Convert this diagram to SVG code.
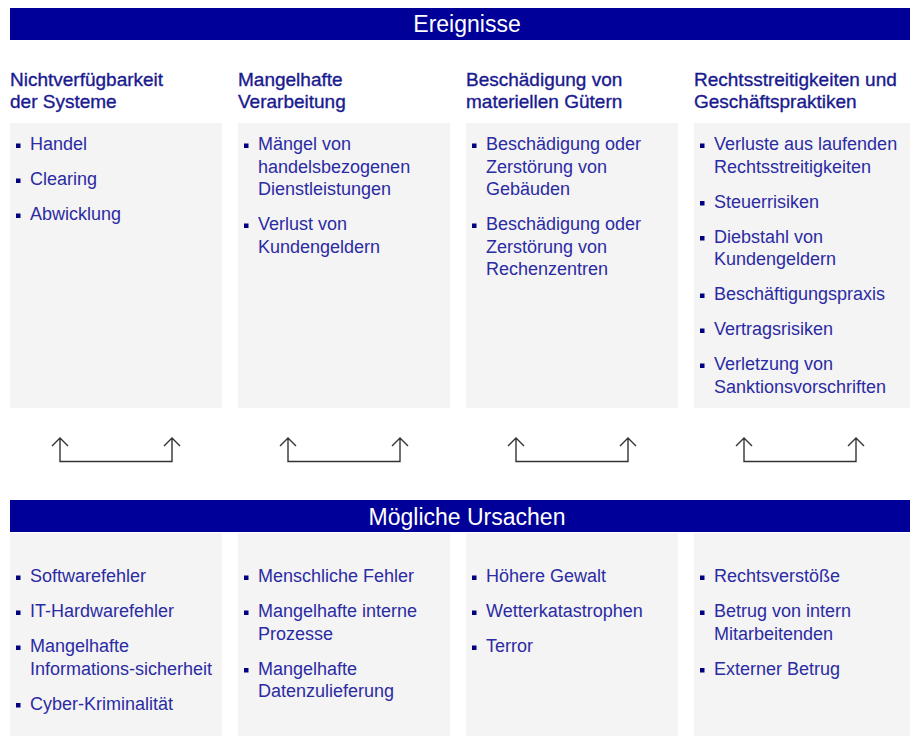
<svg xmlns="http://www.w3.org/2000/svg" width="910" height="736" viewBox="0 0 910 736">
<style>
.bar{fill:#000099}
.bartxt{font-family:"Liberation Sans",Arial,sans-serif;font-size:23px;fill:#ffffff;text-anchor:middle}
.box{fill:#f4f4f4}
.hd{font-family:"Liberation Sans",Arial,sans-serif;font-size:19px;fill:#1a1a8f;stroke:#1a1a8f;stroke-width:0.35}
.it{font-family:"Liberation Sans",Arial,sans-serif;font-size:18px;fill:#2b2ba3}
.bl{fill:#000080}
.con{fill:none;stroke:#333333;stroke-width:1.4}
</style>
<rect width="910" height="736" fill="#ffffff"/>
<g id="header-ereignisse">
<rect class="bar" x="10" y="8" width="900" height="32"/>
<text class="bartxt" x="467" y="32">Ereignisse</text>
</g>
<g id="heading-1"><text class="hd" x="10" y="86">Nichtverfügbarkeit</text><text class="hd" x="10" y="108">der Systeme</text></g>
<g id="heading-2"><text class="hd" x="238" y="86">Mangelhafte</text><text class="hd" x="238" y="108">Verarbeitung</text></g>
<g id="heading-3"><text class="hd" x="466" y="86">Beschädigung von</text><text class="hd" x="466" y="108">materiellen Gütern</text></g>
<g id="heading-4"><text class="hd" x="694" y="86">Rechtsstreitigkeiten und</text><text class="hd" x="694" y="108">Geschäftspraktiken</text></g>

<g id="event-1">
<rect class="box" x="10" y="123" width="212" height="285"/>
<rect class="bl" x="16" y="143.5" width="4.5" height="4.5"/><text class="it" x="30" y="150">Handel</text>
<rect class="bl" x="16" y="178.5" width="4.5" height="4.5"/><text class="it" x="30" y="185">Clearing</text>
<rect class="bl" x="16" y="213.5" width="4.5" height="4.5"/><text class="it" x="30" y="220">Abwicklung</text>
</g>
<g id="event-2">
<rect class="box" x="238" y="123" width="212" height="285"/>
<rect class="bl" x="244" y="143.5" width="4.5" height="4.5"/><text class="it" x="258" y="150">Mängel von</text><text class="it" x="258" y="172.5">handelsbezogenen</text><text class="it" x="258" y="195">Dienstleistungen</text>
<rect class="bl" x="244" y="223.5" width="4.5" height="4.5"/><text class="it" x="258" y="230">Verlust von</text><text class="it" x="258" y="252.5">Kundengeldern</text>
</g>
<g id="event-3">
<rect class="box" x="466" y="123" width="212" height="285"/>
<rect class="bl" x="472" y="143.5" width="4.5" height="4.5"/><text class="it" x="486" y="150">Beschädigung oder</text><text class="it" x="486" y="172.5">Zerstörung von</text><text class="it" x="486" y="195">Gebäuden</text>
<rect class="bl" x="472" y="223.5" width="4.5" height="4.5"/><text class="it" x="486" y="230">Beschädigung oder</text><text class="it" x="486" y="252.5">Zerstörung von</text><text class="it" x="486" y="275">Rechenzentren</text>
</g>
<g id="event-4">
<rect class="box" x="694" y="123" width="216" height="285"/>
<rect class="bl" x="700" y="143.5" width="4.5" height="4.5"/><text class="it" x="714" y="150">Verluste aus laufenden</text><text class="it" x="714" y="172.5">Rechtsstreitigkeiten</text>
<rect class="bl" x="700" y="201" width="4.5" height="4.5"/><text class="it" x="714" y="207.5">Steuerrisiken</text>
<rect class="bl" x="700" y="236" width="4.5" height="4.5"/><text class="it" x="714" y="242.5">Diebstahl von</text><text class="it" x="714" y="265">Kundengeldern</text>
<rect class="bl" x="700" y="293.5" width="4.5" height="4.5"/><text class="it" x="714" y="300">Beschäftigungspraxis</text>
<rect class="bl" x="700" y="328.5" width="4.5" height="4.5"/><text class="it" x="714" y="335">Vertragsrisiken</text>
<rect class="bl" x="700" y="363.5" width="4.5" height="4.5"/><text class="it" x="714" y="370">Verletzung von</text><text class="it" x="714" y="392.5">Sanktionsvorschriften</text>
</g>

<g id="connectors">
<path class="con" d="M60,438 V461.5 H172 V438 M52,446 L60,438 L68,446 M164,446 L172,438 L180,446"/>
<path class="con" d="M288,438 V461.5 H400 V438 M280,446 L288,438 L296,446 M392,446 L400,438 L408,446"/>
<path class="con" d="M516,438 V461.5 H628 V438 M508,446 L516,438 L524,446 M620,446 L628,438 L636,446"/>
<path class="con" d="M744,438 V461.5 H856 V438 M736,446 L744,438 L752,446 M848,446 L856,438 L864,446"/>
</g>

<g id="header-ursachen">
<rect class="bar" x="10" y="500" width="900" height="32"/>
<text class="bartxt" x="467" y="525">Mögliche Ursachen</text>
</g>

<g id="cause-1">
<rect class="box" x="10" y="533" width="212" height="203"/>
<rect class="bl" x="16" y="575.5" width="4.5" height="4.5"/><text class="it" x="30" y="582">Softwarefehler</text>
<rect class="bl" x="16" y="610.5" width="4.5" height="4.5"/><text class="it" x="30" y="617">IT-Hardwarefehler</text>
<rect class="bl" x="16" y="645.5" width="4.5" height="4.5"/><text class="it" x="30" y="652">Mangelhafte</text><text class="it" x="30" y="674.5">Informations-sicherheit</text>
<rect class="bl" x="16" y="703" width="4.5" height="4.5"/><text class="it" x="30" y="709.5">Cyber-Kriminalität</text>
</g>
<g id="cause-2">
<rect class="box" x="238" y="533" width="212" height="203"/>
<rect class="bl" x="244" y="575.5" width="4.5" height="4.5"/><text class="it" x="258" y="582">Menschliche Fehler</text>
<rect class="bl" x="244" y="610.5" width="4.5" height="4.5"/><text class="it" x="258" y="617">Mangelhafte interne</text><text class="it" x="258" y="639.5">Prozesse</text>
<rect class="bl" x="244" y="668" width="4.5" height="4.5"/><text class="it" x="258" y="674.5">Mangelhafte</text><text class="it" x="258" y="697">Datenzulieferung</text>
</g>
<g id="cause-3">
<rect class="box" x="466" y="533" width="212" height="203"/>
<rect class="bl" x="472" y="575.5" width="4.5" height="4.5"/><text class="it" x="486" y="582">Höhere Gewalt</text>
<rect class="bl" x="472" y="610.5" width="4.5" height="4.5"/><text class="it" x="486" y="617">Wetterkatastrophen</text>
<rect class="bl" x="472" y="645.5" width="4.5" height="4.5"/><text class="it" x="486" y="652">Terror</text>
</g>
<g id="cause-4">
<rect class="box" x="694" y="533" width="216" height="203"/>
<rect class="bl" x="700" y="575.5" width="4.5" height="4.5"/><text class="it" x="714" y="582">Rechtsverstöße</text>
<rect class="bl" x="700" y="610.5" width="4.5" height="4.5"/><text class="it" x="714" y="617">Betrug von intern</text><text class="it" x="714" y="639.5">Mitarbeitenden</text>
<rect class="bl" x="700" y="668" width="4.5" height="4.5"/><text class="it" x="714" y="674.5">Externer Betrug</text>
</g>
</svg>
